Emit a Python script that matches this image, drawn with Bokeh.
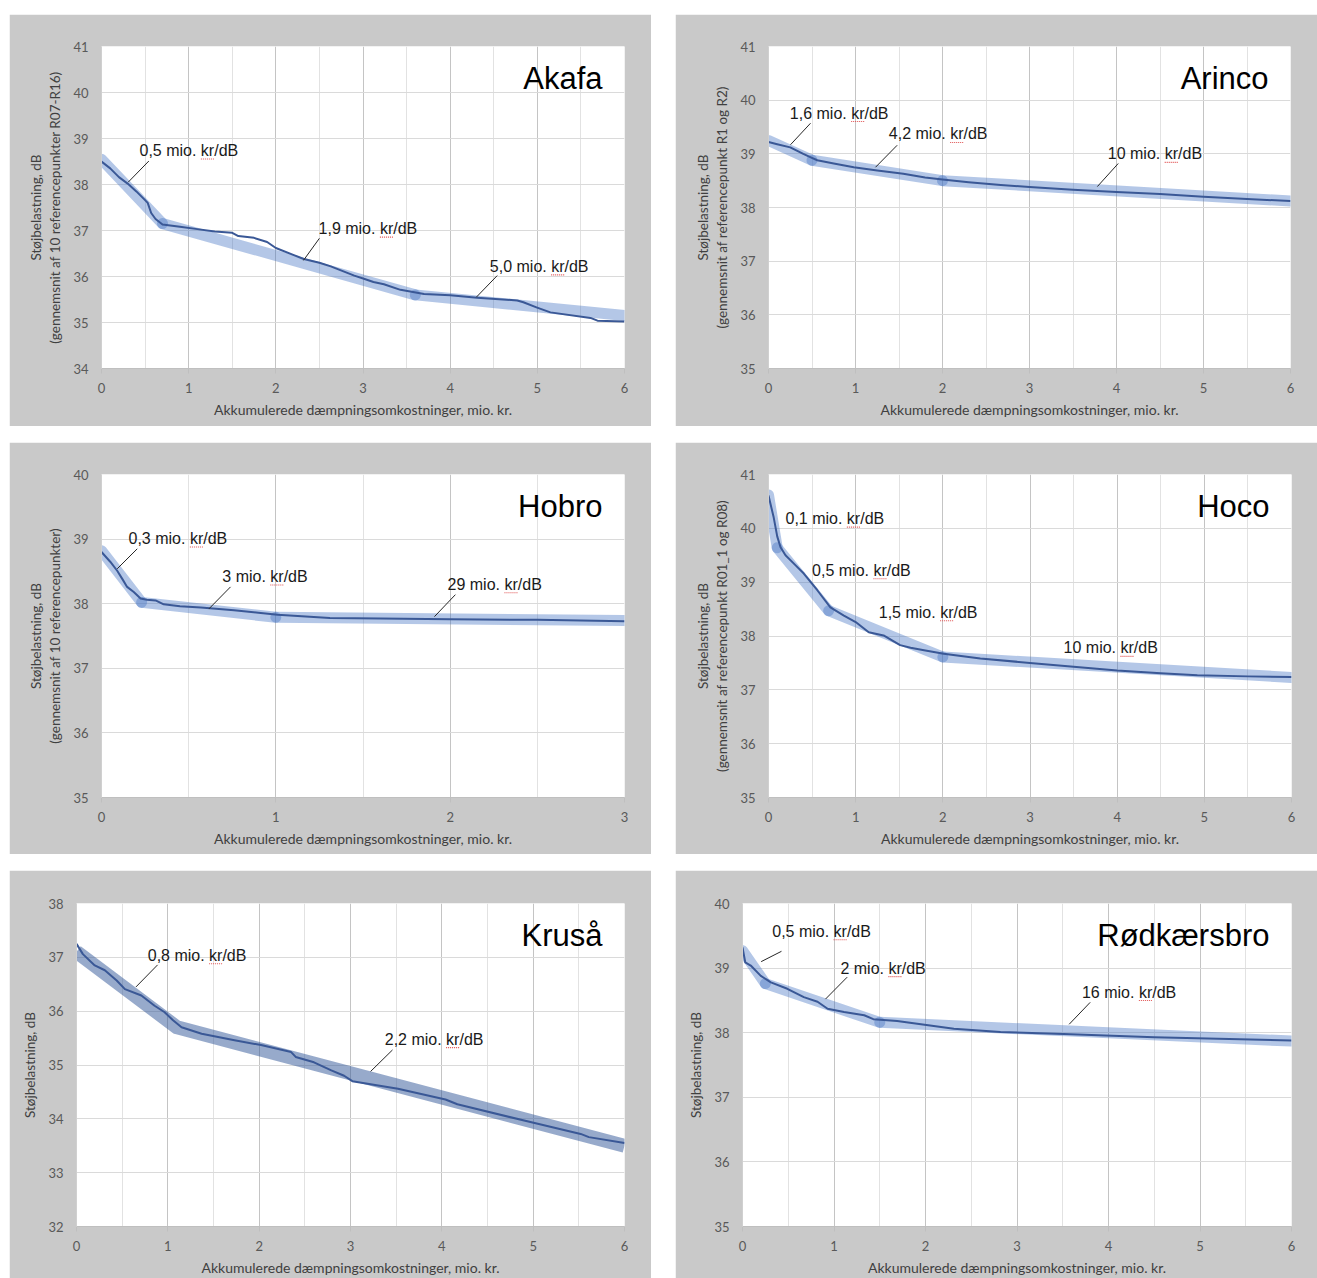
from bokeh.plotting import figure
from bokeh.models import Range1d, FixedTicker, Spacer, Label, ColumnDataSource
from bokeh.layouts import column, row
from bokeh.embed import file_html
from bokeh.resources import INLINE
from bokeh.core.properties import value

# ---------------- DATA ----------------
akafa_cost = [0.00, 0.10, 0.20, 0.30, 0.40, 0.50, 0.53, 0.57, 0.62, 0.70, 0.90, 1.10, 1.30, 1.50, 1.57,
              1.75, 1.90, 2.00, 2.20, 2.32, 2.50, 2.63, 2.90, 3.01, 3.12, 3.24, 3.43, 3.70, 4.00, 4.31,
              4.77, 4.84, 4.99, 5.15, 5.61, 5.69, 6.00]
akafa_noise = [38.50, 38.35, 38.16, 38.02, 37.85, 37.66, 37.60, 37.38, 37.25, 37.13, 37.08, 37.03, 36.98, 36.95, 36.88,
               36.84, 36.75, 36.62, 36.47, 36.38, 36.30, 36.22, 36.02, 35.95, 35.88, 35.83, 35.71, 35.62, 35.59, 35.54,
               35.48, 35.44, 35.33, 35.22, 35.10, 35.04, 35.02]
akafa_fit_cost = [0.0, 0.7, 3.6, 6.0]
akafa_fit_noise = [38.55, 37.15, 35.60, 35.15]
akafa_labels = ["0,5 mio. kr/dB", "1,9 mio. kr/dB", "5,0 mio. kr/dB"]

arinco_cost = [0.00, 0.10, 0.25, 0.40, 0.48, 0.56, 0.75, 0.98, 1.25, 1.55, 1.80, 2.00, 2.30, 2.67, 3.00,
               3.50, 4.00, 4.50, 5.00, 5.50, 6.00]
arinco_noise = [39.22, 39.18, 39.12, 39.00, 38.94, 38.88, 38.82, 38.75, 38.69, 38.63, 38.56, 38.52, 38.47, 38.42, 38.38,
                38.33, 38.29, 38.25, 38.20, 38.16, 38.12]
arinco_fit_cost = [0.0, 0.5, 2.0, 6.0]
arinco_fit_noise = [39.25, 38.88, 38.50, 38.12]
arinco_labels = ["1,6 mio. kr/dB", "4,2 mio. kr/dB", "10 mio. kr/dB"]

hobro_cost = [0.00, 0.05, 0.09, 0.12, 0.147, 0.185, 0.224, 0.26, 0.31, 0.357, 0.45, 0.57, 0.76, 0.90, 1.01,
              1.31, 1.60, 2.00, 2.50, 3.00]
hobro_noise = [38.80, 38.65, 38.51, 38.38, 38.26, 38.18, 38.08, 38.06, 38.05, 37.99, 37.96, 37.94, 37.90, 37.86, 37.83,
               37.78, 37.77, 37.76, 37.75, 37.73]
hobro_fit_cost = [0.0, 0.23, 1.0, 3.0]
hobro_fit_noise = [38.82, 38.02, 37.79, 37.74]
hobro_labels = ["0,3 mio. kr/dB", "3 mio. kr/dB", "29 mio. kr/dB"]

hoco_cost = [0.00, 0.06, 0.10, 0.138, 0.195, 0.30, 0.405, 0.56, 0.71, 0.865, 1.00, 1.15, 1.32, 1.51, 1.63,
             1.80, 2.01, 2.43, 3.00, 3.50, 4.00, 4.50, 4.92, 5.50, 6.00]
hoco_noise = [40.61, 40.20, 39.85, 39.65, 39.50, 39.33, 39.16, 38.85, 38.53, 38.38, 38.26, 38.07, 38.01, 37.83, 37.78,
              37.73, 37.67, 37.58, 37.50, 37.43, 37.36, 37.31, 37.27, 37.25, 37.24]
hoco_fit_cost = [0.0, 0.1, 0.69, 2.0, 6.0]
hoco_fit_noise = [40.62, 39.64, 38.47, 37.61, 37.23]
hoco_labels = ["0,1 mio. kr/dB", "0,5 mio. kr/dB", "1,5 mio. kr/dB", "10 mio. kr/dB"]

krusa_cost = [0.00, 0.07, 0.20, 0.31, 0.44, 0.53, 0.71, 0.855, 0.965, 1.057, 1.15, 1.37, 1.73, 2.02, 2.35,
              2.40, 2.60, 2.79, 2.93, 3.02, 3.52, 4.04, 4.17, 4.97, 5.52, 5.61, 6.00]
krusa_noise = [37.25, 37.06, 36.85, 36.76, 36.57, 36.41, 36.29, 36.10, 35.98, 35.83, 35.70, 35.58, 35.46, 35.37, 35.24,
               35.15, 35.05, 34.90, 34.80, 34.70, 34.56, 34.36, 34.27, 33.94, 33.72, 33.66, 33.55]
krusa_fit_cost = [0.0, 1.1, 6.0]
krusa_fit_noise = [37.10, 35.70, 33.50]
krusa_labels = ["0,8 mio. kr/dB", "2,2 mio. kr/dB"]

rodk_cost = [0.00, 0.03, 0.09, 0.20, 0.31, 0.49, 0.67, 0.82, 0.93, 1.11, 1.33, 1.43, 1.69, 1.95, 2.31,
             2.82, 3.51, 4.50, 6.00]
rodk_noise = [39.32, 39.09, 39.04, 38.88, 38.78, 38.68, 38.55, 38.48, 38.37, 38.32, 38.27, 38.21, 38.18, 38.13, 38.06,
              38.01, 37.98, 37.93, 37.88]
rodk_fit_cost = [0.0, 0.25, 1.5, 6.0]
rodk_fit_noise = [39.27, 38.76, 38.16, 37.87]
rodk_labels = ["0,5 mio. kr/dB", "2 mio. kr/dB", "16 mio. kr/dB"]

x_title = "Akkumulerede dæmpningsomkostninger, mio. kr."

# ---------------- STYLE / LAYOUT ----------------
GREY = "#c9c9c9"
LINE = "#3a5896"
BAND = "#4472c4"
TICK_FONT = "Lato"
ANN_FONT = "Liberation Sans"

# Arial-like advance widths (em) for the underline position under "kr"
W = {"0": .556, "1": .556, "2": .556, "3": .556, "4": .556, "5": .556, "6": .556, "7": .556, "8": .556,
     "9": .556, ",": .278, " ": .278, "m": .833, "i": .222, "o": .556, ".": .278}


def make_panel(title, ylab, cost, noise, fit_cost, fit_noise, labels, L):
    w, h = L["w"], L["h"]
    bl, br, bt, bb = L["border"]
    xmax, ymin, ymax = L["xmax"], L["ymin"], L["ymax"]
    p = figure(width=w, height=h, x_range=Range1d(0, xmax), y_range=Range1d(ymin, ymax),
               output_backend="svg", toolbar_location=None, tools="",
               min_border_left=bl, min_border_right=br, min_border_top=bt, min_border_bottom=bb)
    p.border_fill_color = GREY
    p.background_fill_color = "white"
    p.outline_line_color = None

    fw = w - bl - br
    fh = h - bt - bb
    sx = fw / xmax
    sy = fh / (ymax - ymin)

    p.xaxis.ticker = FixedTicker(ticks=list(range(0, xmax + 1)),
                                 minor_ticks=[i + 0.5 for i in range(xmax)])
    p.yaxis.ticker = FixedTicker(ticks=list(range(ymin, ymax + 1)))
    p.xgrid.grid_line_color = "#c4c4c4"
    p.xgrid.minor_grid_line_color = "#e2e2e2"
    p.ygrid.grid_line_color = "#dadada"

    for ax in (p.xaxis, p.yaxis):
        ax.major_label_text_font = TICK_FONT
        ax.major_label_text_font_size = "13px"
        ax.major_label_text_color = "#595959"
        ax.axis_label_text_font = TICK_FONT
        ax.axis_label_text_color = "#404040"
        ax.axis_label_text_font_style = "normal"
        ax.minor_tick_line_color = None
    p.xaxis.axis_label_text_font_size = "14px"
    p.yaxis.axis_label_text_font_size = "13.5px"
    p.xaxis.axis_line_color = "#bfbfbf"
    p.xaxis.major_tick_line_color = "#bfbfbf"
    p.xaxis.major_tick_out = 5
    p.xaxis.major_tick_in = 0
    p.xaxis.major_label_standoff = 9
    p.xaxis.axis_label = x_title
    p.xaxis.axis_label_standoff = 5
    p.yaxis.axis_line_color = "#d0d0d0"
    p.yaxis.major_tick_line_color = None
    p.yaxis.major_tick_out = 0
    p.yaxis.major_tick_in = 0
    p.yaxis.major_label_standoff = 13
    p.yaxis.axis_label = ylab
    p.yaxis.axis_label_standoff = L.get("ylab_standoff", 7)

    # fitted segments (wide translucent band)
    if L.get("single_band"):
        p.line(fit_cost, fit_noise, line_color=L["band_color"], line_alpha=L["band_alpha"],
               line_width=L["band_w"], line_cap="butt", line_join="round")
    else:
        for i in range(len(fit_cost) - 1):
            p.line(fit_cost[i:i + 2], fit_noise[i:i + 2], line_color=L["band_color"],
                   line_alpha=L["band_alpha"], line_width=L["band_w"], line_cap="round")

    # curve
    p.line(cost, noise, line_color=LINE, line_width=2, line_join="round")

    # annotation texts
    ann = L["ann"]
    src = ColumnDataSource(dict(x=[a[0] for a in ann], y=[a[1] for a in ann], t=labels))
    p.text(x="x", y="y", text="t", source=src, text_font=value(ANN_FONT), text_font_size="16px",
           text_color="#1a1a1a", text_align="left", text_baseline="middle")
    # red spell-check underline below "kr"
    ux0, ux1, uy = [], [], []
    for (ax_, ay_), t in zip(ann, labels):
        pre = t.split("kr")[0]
        off = sum(W.get(c, .556) for c in pre) * 16
        ux0.append(ax_ + off / sx)
        ux1.append(ax_ + (off + 13.3) / sx)
        uy.append(ay_ - 8.5 / sy)
    p.segment(ux0, uy, ux1, uy, line_color="#e05050", line_width=1.1, line_dash="1 1")

    # leader lines
    leaders = L["leaders"]
    if leaders:
        p.segment([l[0] for l in leaders], [l[1] for l in leaders],
                  [l[2] for l in leaders], [l[3] for l in leaders],
                  line_color="#262626", line_width=1)

    # title
    p.add_layout(Label(x=xmax - 22 / sx, y=ymax - 31.5 / sy, text=title, text_font=ANN_FONT,
                       text_font_size="31px", text_color="black", text_align="right",
                       text_baseline="middle"))
    return p


base_band = dict(band_color=BAND, band_alpha=0.4, band_w=11)

L1 = dict(w=642, h=412, border=(92, 27, 32, 58), xmax=6, ymin=34, ymax=41,
          ann=[(0.436, 38.74), (2.49, 37.04), (4.455, 36.22)],
          leaders=[(0.543, 38.51, 0.306, 38.05), (2.50, 36.83, 2.317, 36.35), (4.54, 36.02, 4.30, 35.55)],
          **base_band)
L2 = dict(w=642, h=412, border=(93, 27, 32, 58), xmax=6, ymin=35, ymax=41,
          ann=[(0.245, 39.76), (1.383, 39.37), (3.90, 39.0)],
          leaders=[(0.483, 39.57, 0.253, 39.17), (1.479, 39.16, 1.23, 38.75), (4.02, 38.82, 3.78, 38.39)],
          **base_band)
L3 = dict(w=642, h=412, border=(92, 27, 32, 57), xmax=3, ymin=35, ymax=40,
          ann=[(0.155, 39.01), (0.693, 38.42), (1.985, 38.30)],
          leaders=[(0.205, 38.85, 0.09, 38.54), (0.74, 38.26, 0.616, 37.92), (2.03, 38.14, 1.91, 37.80)],
          **base_band)
L4 = dict(w=642, h=412, border=(93, 26, 32, 57), xmax=6, ymin=35, ymax=41,
          ann=[(0.195, 40.18), (0.50, 39.22), (1.265, 38.44), (3.385, 37.78)],
          leaders=[], **base_band)
L5 = dict(w=642, h=408, border=(67, 27, 33, 52), xmax=6, ymin=32, ymax=38,
          ann=[(0.78, 37.04), (3.375, 35.48)],
          leaders=[(0.888, 36.86, 0.651, 36.45), (3.46, 35.28, 3.22, 34.88)],
          band_color="#2f5597", band_alpha=0.5, band_w=14, single_band=True)
L6 = dict(w=642, h=408, border=(67, 26, 33, 52), xmax=6, ymin=35, ymax=40,
          ann=[(0.325, 39.57), (1.07, 39.0), (3.71, 38.63)],
          leaders=[(0.426, 39.26, 0.204, 39.10), (1.144, 38.86, 0.907, 38.52), (3.80, 38.47, 3.57, 38.13)],
          **base_band)

ylab1 = "Støjbelastning, dB\n(gennemsnit af 10 referencepunkter R07-R16)"
ylab2 = "Støjbelastning, dB\n(gennemsnit af referencepunkt R1 og R2)"
ylab3 = "Støjbelastning, dB\n(gennemsnit af 10 referencepunkter)"
ylab4 = "Støjbelastning, dB\n(gennemsnit af referencepunkt R01_1 og R08)"
ylab5 = "Støjbelastning, dB"

p1 = make_panel("Akafa", ylab1, akafa_cost, akafa_noise, akafa_fit_cost, akafa_fit_noise, akafa_labels, L1)
p2 = make_panel("Arinco", ylab2, arinco_cost, arinco_noise, arinco_fit_cost, arinco_fit_noise, arinco_labels, L2)
p3 = make_panel("Hobro", ylab3, hobro_cost, hobro_noise, hobro_fit_cost, hobro_fit_noise, hobro_labels, L3)
p4 = make_panel("Hoco", ylab4, hoco_cost, hoco_noise, hoco_fit_cost, hoco_fit_noise, hoco_labels, L4)
p5 = make_panel("Kruså", ylab5, krusa_cost, krusa_noise, krusa_fit_cost, krusa_fit_noise, krusa_labels, L5)
p6 = make_panel("Rødkærsbro", ylab5, rodk_cost, rodk_noise, rodk_fit_cost, rodk_fit_noise, rodk_labels, L6)


def padded_row(a, b):
    return row(Spacer(width=9, height=10), a, Spacer(width=24, height=10), b)


layout = column(
    Spacer(width=10, height=14),
    padded_row(p1, p2),
    Spacer(width=10, height=16),
    padded_row(p3, p4),
    Spacer(width=10, height=16),
    padded_row(p5, p6),
)

open("out.html", "w").write(file_html(layout, INLINE))
